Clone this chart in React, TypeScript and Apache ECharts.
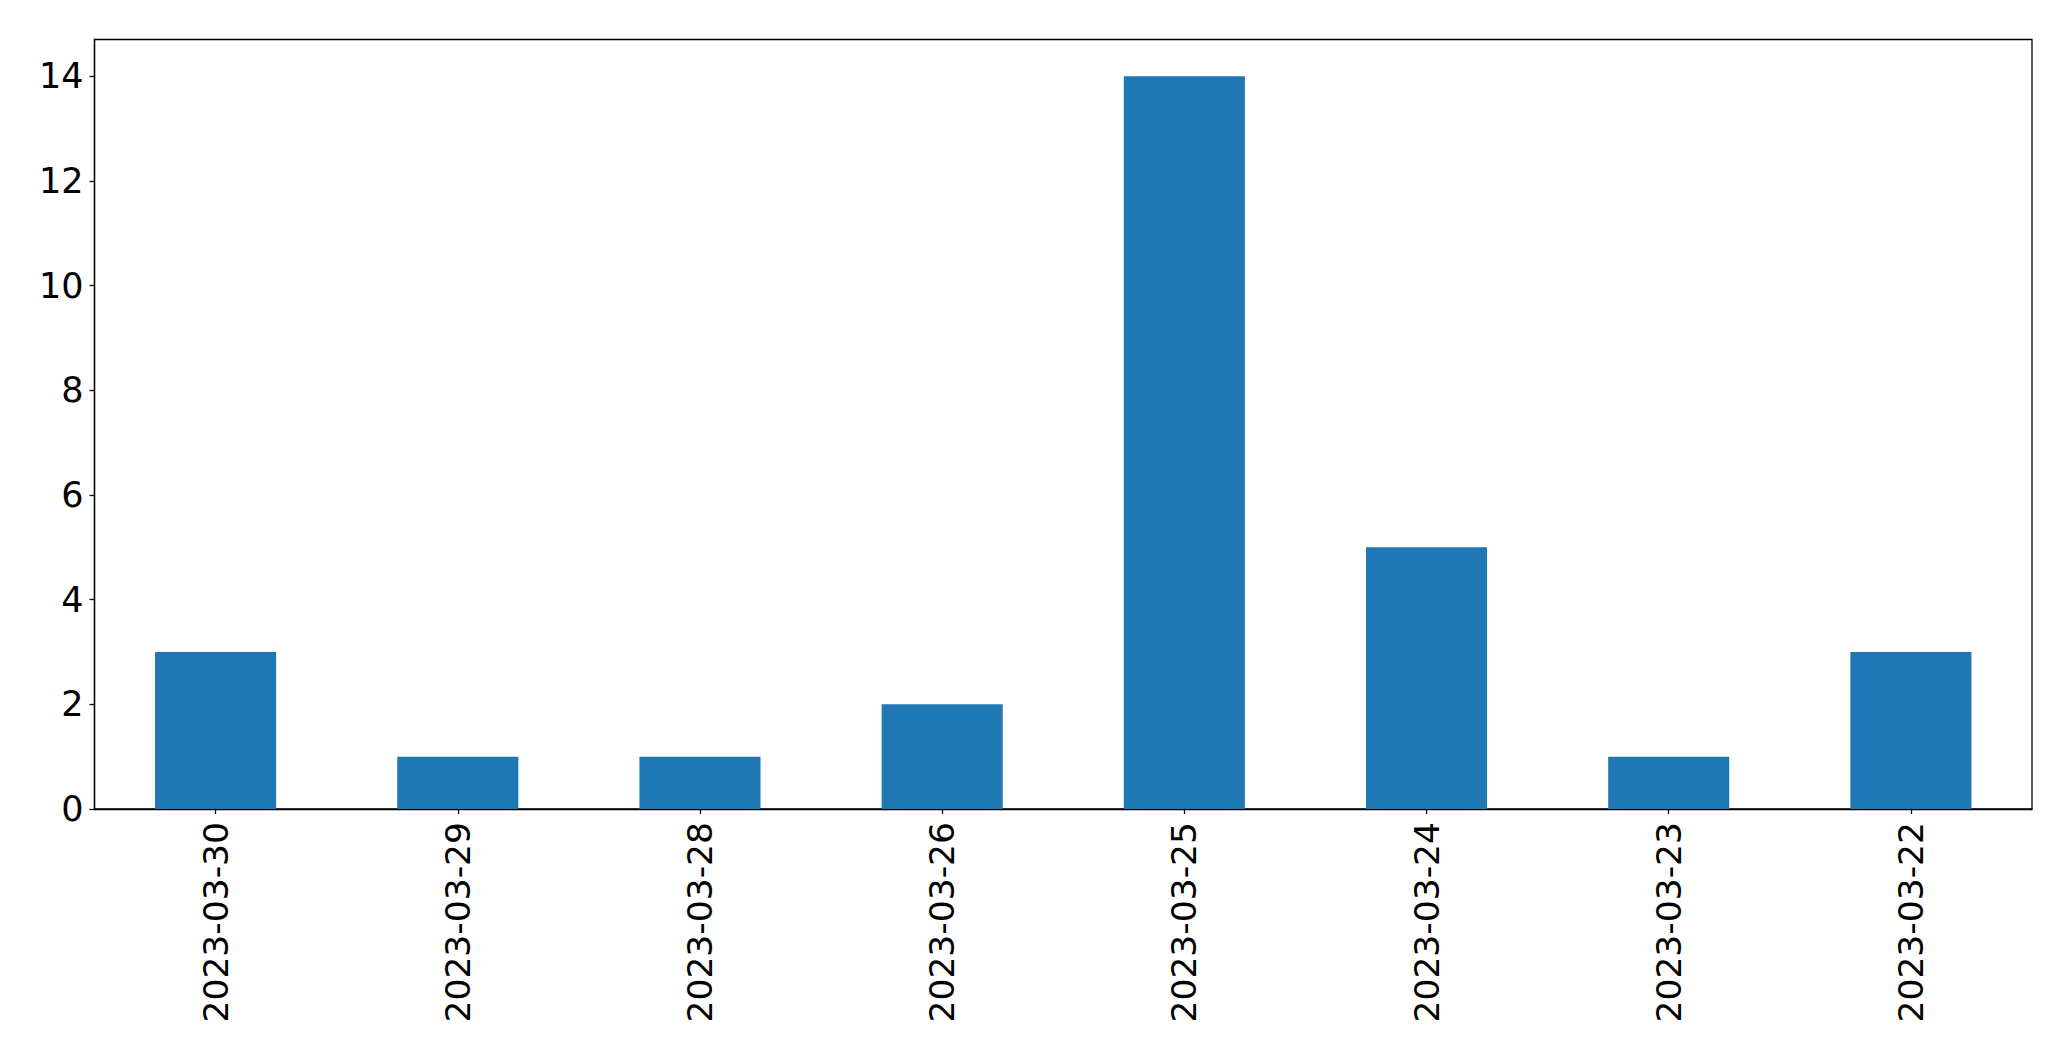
import React, { useEffect, useRef } from "react";
import * as echarts from "echarts";

const categories = [
  "2023-03-30",
  "2023-03-29",
  "2023-03-28",
  "2023-03-26",
  "2023-03-25",
  "2023-03-24",
  "2023-03-23",
  "2023-03-22",
];
const counts = [3, 1, 1, 2, 14, 5, 1, 3];
const yTicks = [0, 2, 4, 6, 8, 10, 12, 14];
const yMax = 14.7;

export default function App() {
  const ref = useRef<HTMLDivElement>(null);
  useEffect(() => {
    if (!ref.current) return;
    const chart = echarts.init(ref.current, null, { renderer: "svg" });
    const font = "DejaVu Sans";
    chart.setOption({
      animation: false,
      backgroundColor: "#ffffff",
      grid: {
        left: 94.5,
        top: 39.5,
        right: 39,
        bottom: 252,
        show: true,
        borderColor: "#000000",
        borderWidth: 1.3,
        containLabel: false,
      },
      xAxis: {
        type: "category",
        data: categories,
        boundaryGap: true,
        axisLine: { show: true, lineStyle: { color: "#000000", width: 1.3 } },
        axisTick: {
          show: true,
          alignWithLabel: true,
          length: 5,
          lineStyle: { color: "#000000", width: 1.3 },
        },
        axisLabel: {
          rotate: 90,
          margin: 13,
          color: "#000000",
          fontFamily: font,
          fontSize: 34.5,
          interval: 0,
        },
        splitLine: { show: false },
      },
      yAxis: {
        type: "value",
        min: 0,
        max: yMax,
        axisLine: { show: true, lineStyle: { color: "#000000", width: 1.3 } },
        axisTick: {
          show: true,
          length: 5,
          customValues: yTicks,
          lineStyle: { color: "#000000", width: 1.3 },
        },
        axisLabel: {
          margin: 11,
          color: "#000000",
          fontFamily: font,
          fontSize: 35,
          customValues: yTicks,
        },
        splitLine: { show: false },
      },
      series: [
        {
          type: "bar",
          data: counts,
          barWidth: "50%",
          itemStyle: { color: "#1f77b4" },
        },
      ],
    });
    return () => chart.dispose();
  }, []);
  return (
    <div
      ref={ref}
      style={{ position: "fixed", left: 0, top: 0, width: 2071, height: 1061 }}
    />
  );
}
